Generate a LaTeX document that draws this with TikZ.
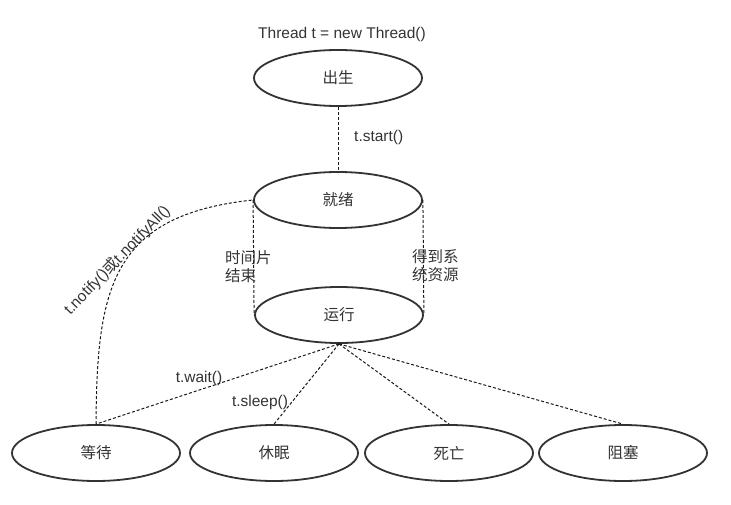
\documentclass[tikz,border=0pt]{standalone}
\usepackage{fontspec}
\setmainfont{Liberation Sans}
\newfontfamily\cjk{Noto Sans CJK SC}
\usetikzlibrary{shapes.geometric}
\definecolor{inkgrey}{HTML}{333333}
\tikzset{
	state/.style={ellipse, draw=inkgrey, line width=1.8pt, minimum width=168pt, minimum height=56pt, inner sep=0pt, text=inkgrey, font=\cjk\fontsize{15.5}{18}\selectfont},
	trans/.style={draw=black!90, line width=1pt, dash pattern=on 3pt off 2pt},
	lbl/.style={inner sep=0pt, text=inkgrey, font=\fontsize{15.5}{18}\selectfont},
	cjklbl/.style={lbl, align=left, font=\cjk\fontsize{15.5}{18}\selectfont},
}

\begin{document}
\begin{tikzpicture}[x=1pt, y=-1pt]
			%%%%% START %%%%%
			\useasboundingbox (0, 0) rectangle (731, 505);
			
			\node[lbl] (newthread) at (342, 34) {Thread t = new Thread()};
			
			\node[state] (born) at (338, 78) {出生};
			\node[state] (ready) at (338, 200) {就绪};
			\node[state] (running) at (339, 315) {运行};
			
			\node[state] (waiting) at (96, 453) {等待};
			\node[state] (sleeping) at (274, 453) {休眠};
			\node[state] (dead) at (449, 453) {死亡};
			\node[state] (blocked) at (623, 453) {阻塞};
			
			\draw[trans] (born.south) -- (ready.north);
			\node[lbl, anchor=west] (start) at (354, 137) {t.start()};
			
			\draw[trans] (ready.west) -- (running.west);
			\draw[trans] (ready.east) -- (running.east);
			\node[cjklbl, anchor=west] (slice) at (225, 267) {时间片\\结束};
			\node[cjklbl, anchor=west] (resource) at (412, 266) {得到系\\统资源};
			
			\draw[trans] (running.south) -- (waiting.north);
			\draw[trans] (running.south) -- (sleeping.north);
			\draw[trans] (running.south) -- (dead.north);
			\draw[trans] (running.south) -- (blocked.north);
			\node[lbl] (wait) at (199, 378) {t.wait()};
			\node[lbl] (sleep) at (260, 402) {t.sleep()};
			
			\draw[trans] (waiting.north) .. controls (97, 290) and (110, 215) .. (ready.west);
			\node[lbl, rotate=46] (notify) at (117, 260) {t.notify(){\cjk 或}t.notifyAll()};
			
			%%%%% END %%%%%
\end{tikzpicture}
\end{document}
